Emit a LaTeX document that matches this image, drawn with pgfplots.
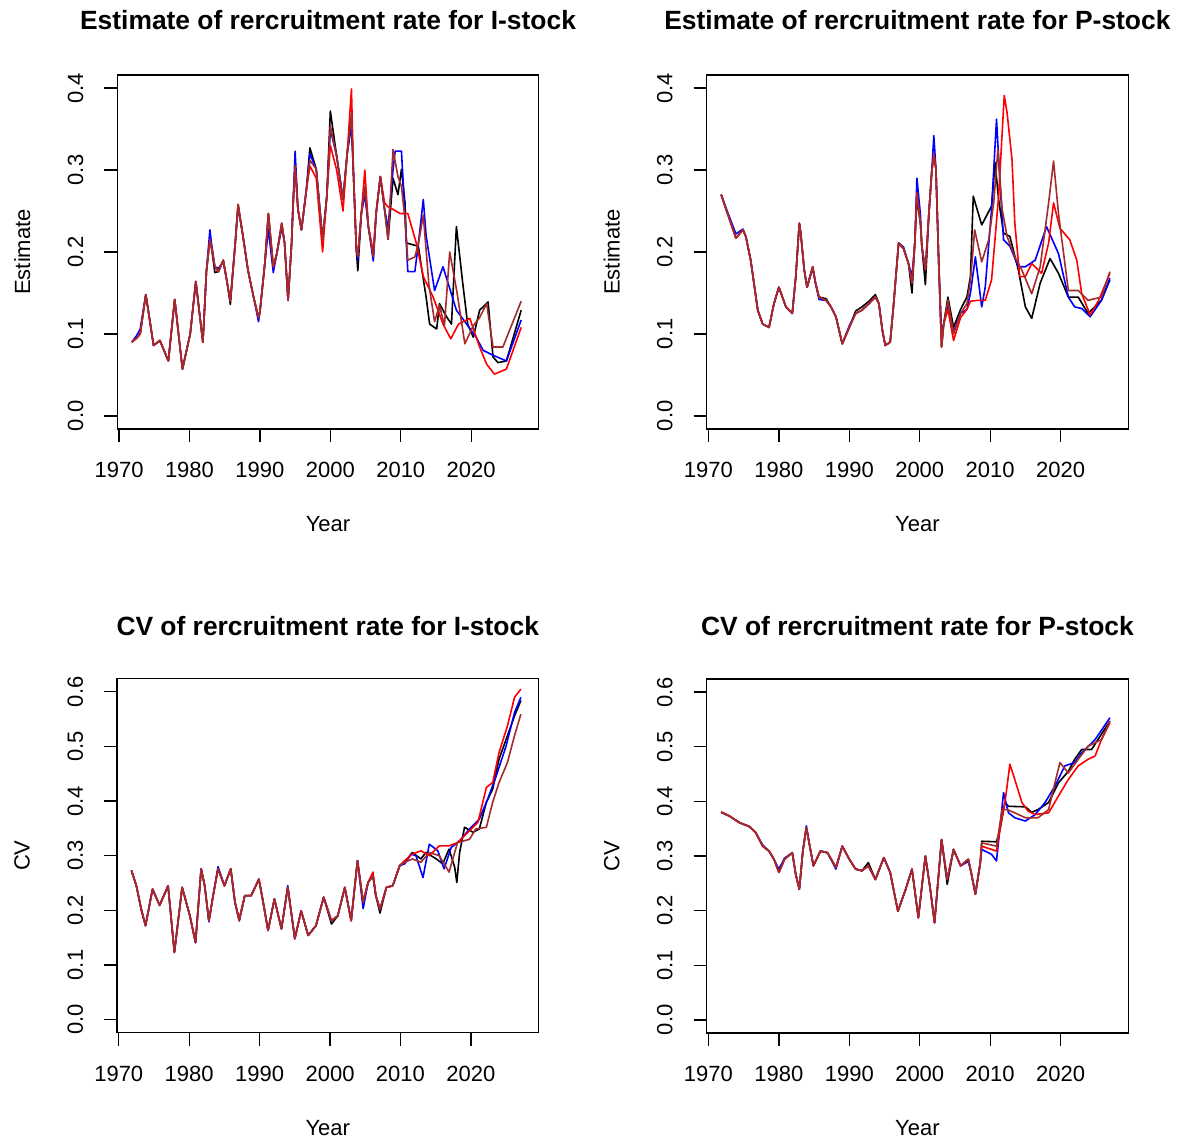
\documentclass[border=0pt]{standalone}
\usepackage{pgfplots}
\usepackage{pgfplotstable}
\pgfplotsset{compat=1.18}
\usepackage{fontspec}
\setmainfont{Liberation Sans}
\definecolor{rbrown}{RGB}{165,42,42}
\definecolor{rblue}{RGB}{0,0,255}
\definecolor{rred}{RGB}{255,0,0}

\pgfplotsset{
 rpanel/.style={
  scale only axis, width=421.5pt, height=354pt,
  xmin=1969.75, xmax=2029.6,
  xtick={1970,1980,1990,2000,2010,2020},
  tick align=outside, major tick length=13pt,
  xtick pos=bottom, ytick pos=left,
  axis line style={line width=1.3pt},
  every tick/.style={black, line width=1.3pt},
  tick label style={font=\fontsize{22}{26}\selectfont},
  /pgf/number format/assume math mode=true,
  xticklabel style={anchor=north, inner sep=0pt, yshift=-20pt, /pgf/number format/1000 sep={}},
  yticklabel style={rotate=90, anchor=south, inner sep=0pt, outer sep=0pt, outer ysep=21pt, /pgf/number format/.cd, fixed, fixed zerofill, precision=1},
  label style={font=\fontsize{22}{26}\selectfont},
  title style={font=\fontsize{26.4}{30}\selectfont\bfseries, anchor=center},
  xlabel style={at={(axis description cs:0.5,-0.268)}, anchor=center},
  ylabel style={at={(axis description cs:-0.2254,0.5)}, anchor=center},
  xlabel={Year},
  every axis plot/.append style={line width=1.6pt, line join=round},
 },
 toprow/.style={ymin=-0.016, ymax=0.416, ytick={0,0.1,0.2,0.3,0.4}, ylabel={Estimate},
   title style={at={(axis description cs:0.5,1.138)}}},
 botrow/.style={ymin=-0.024, ymax=0.624, ytick={0,0.1,0.2,0.3,0.4,0.5,0.6}, ylabel={CV},
   title style={at={(axis description cs:0.5,1.133)}}},
}

% ---------- common parts (year, black k, blue b, red r, brown n)
\pgfplotstableread{
year k b r n
1971.8 0.090 0.090 0.090 0.090
1972.5 0.095 0.098 0.095 0.095
1973.0 0.100 0.106 0.100 0.100
1973.8 0.148 0.148 0.148 0.148
1974.9 0.086 0.086 0.086 0.086
1975.8 0.092 0.092 0.092 0.092
1977.0 0.067 0.067 0.067 0.067
1977.9 0.142 0.142 0.142 0.142
1979.0 0.057 0.057 0.057 0.057
1980.1 0.100 0.100 0.100 0.100
1980.9 0.164 0.164 0.164 0.164
1981.9 0.090 0.090 0.090 0.090
1982.2 0.141 0.141 0.141 0.141
1982.4 0.176 0.176 0.176 0.176
1982.9 0.215 0.227 0.215 0.215
1983.1 0.207 0.212 0.207 0.207
1983.6 0.175 0.182 0.182 0.182
1984.1 0.176 0.180 0.176 0.176
1984.8 0.190 0.188 0.190 0.190
1985.3 0.165 0.165 0.165 0.165
1985.8 0.136 0.140 0.140 0.140
1986.5 0.211 0.211 0.211 0.211
1986.9 0.258 0.255 0.258 0.258
1987.6 0.219 0.219 0.219 0.219
1988.3 0.178 0.178 0.178 0.178
1989.1 0.145 0.145 0.145 0.145
1989.8 0.120 0.115 0.120 0.120
1990.0 0.127 0.127 0.127 0.127
1990.7 0.186 0.186 0.186 0.186
1991.2 0.247 0.228 0.247 0.247
1991.9 0.182 0.175 0.182 0.182
1992.4 0.198 0.198 0.198 0.198
1993.1 0.235 0.230 0.235 0.235
1993.5 0.211 0.211 0.211 0.211
1994.0 0.141 0.141 0.141 0.141
1994.5 0.211 0.211 0.211 0.211
1994.7 0.256 0.256 0.256 0.256
1995.0 0.305 0.323 0.305 0.305
1995.4 0.252 0.252 0.252 0.252
1995.9 0.227 0.227 0.227 0.227
1996.6 0.276 0.276 0.276 0.276
1997.1 0.327 0.320 0.305 0.312
1998.0 0.301 0.301 0.290 0.301
1998.9 0.215 0.215 0.200 0.215
1999.5 0.268 0.268 0.268 0.268
2000.0 0.372 0.350 0.330 0.354
2000.9 0.317 0.317 0.300 0.317
2001.8 0.264 0.264 0.250 0.264
2002.4 0.321 0.321 0.321 0.321
2003.0 0.355 0.360 0.399 0.370
2003.3 0.292 0.292 0.292 0.292
2003.7 0.202 0.202 0.202 0.202
2003.9 0.177 0.190 0.195 0.195
2004.4 0.247 0.247 0.247 0.247
2004.9 0.280 0.270 0.300 0.280
2005.4 0.231 0.231 0.231 0.231
2006.1 0.194 0.189 0.200 0.194
2006.5 0.247 0.247 0.247 0.247
2007.1 0.292 0.292 0.292 0.292
2007.7 0.252 0.252 0.260 0.252
2008.2 0.215 0.230 0.255 0.215
}\TLc

\pgfplotstableread{
year k b r n
1971.8 0.270 0.270 0.270 0.270
1972.7 0.247 0.249 0.247 0.247
1973.9 0.217 0.222 0.217 0.217
1974.9 0.227 0.228 0.227 0.227
1975.3 0.219 0.219 0.219 0.219
1976.0 0.190 0.190 0.190 0.190
1977.0 0.129 0.129 0.129 0.129
1977.7 0.112 0.112 0.112 0.112
1978.6 0.108 0.108 0.108 0.108
1979.3 0.137 0.137 0.137 0.137
1980.0 0.157 0.157 0.157 0.157
1981.0 0.133 0.133 0.133 0.133
1981.9 0.125 0.125 0.125 0.125
1982.4 0.170 0.170 0.170 0.170
1982.9 0.235 0.235 0.235 0.235
1983.1 0.223 0.223 0.223 0.223
1983.6 0.178 0.178 0.178 0.178
1984.0 0.157 0.157 0.157 0.157
1984.8 0.182 0.180 0.182 0.182
1985.2 0.162 0.162 0.162 0.162
1985.7 0.145 0.142 0.145 0.145
1986.7 0.143 0.141 0.141 0.141
1987.4 0.133 0.133 0.133 0.133
1988.1 0.121 0.121 0.121 0.121
1989.0 0.088 0.088 0.088 0.088
1990.0 0.108 0.110 0.108 0.108
1990.9 0.128 0.125 0.125 0.125
1991.8 0.133 0.129 0.129 0.129
1992.8 0.140 0.137 0.137 0.137
1993.7 0.148 0.145 0.145 0.145
1994.2 0.137 0.137 0.137 0.137
1994.7 0.104 0.104 0.104 0.104
1995.1 0.086 0.086 0.086 0.086
1995.8 0.090 0.090 0.090 0.090
1996.3 0.137 0.137 0.137 0.137
1997.0 0.211 0.211 0.211 0.211
1997.7 0.204 0.206 0.204 0.204
1998.4 0.186 0.186 0.186 0.186
1998.9 0.150 0.170 0.162 0.162
1999.3 0.211 0.211 0.211 0.211
1999.6 0.265 0.290 0.272 0.272
2000.1 0.235 0.245 0.235 0.235
2000.3 0.207 0.207 0.207 0.207
2000.8 0.160 0.178 0.178 0.178
2001.3 0.247 0.247 0.247 0.247
2001.7 0.297 0.297 0.297 0.297
2002.0 0.320 0.342 0.320 0.320
2002.3 0.301 0.301 0.301 0.301
2002.7 0.186 0.186 0.186 0.186
2003.1 0.084 0.100 0.084 0.084
2003.4 0.112 0.112 0.112 0.112
2004.0 0.145 0.135 0.130 0.141
2004.8 0.108 0.102 0.092 0.100
2005.8 0.130 0.125 0.120 0.125
2006.7 0.145 0.130 0.130 0.137
2007.2 0.170 0.150 0.140 0.165
}\TRc

\pgfplotstableread{
year k b r n
1971.8 0.273 0.273 0.273 0.273
1972.5 0.245 0.245 0.245 0.245
1973.2 0.202 0.200 0.202 0.202
1973.8 0.172 0.172 0.172 0.172
1974.8 0.239 0.239 0.239 0.239
1975.8 0.209 0.209 0.209 0.209
1977.0 0.245 0.245 0.245 0.245
1977.9 0.123 0.123 0.123 0.123
1979.0 0.242 0.242 0.242 0.242
1980.1 0.190 0.190 0.190 0.190
1980.9 0.141 0.141 0.141 0.141
1981.7 0.276 0.276 0.276 0.276
1982.2 0.245 0.245 0.245 0.245
1982.8 0.181 0.179 0.181 0.181
1983.4 0.227 0.227 0.227 0.227
1984.1 0.276 0.280 0.276 0.276
1985.0 0.245 0.245 0.245 0.245
1985.9 0.276 0.276 0.276 0.276
1986.5 0.215 0.215 0.215 0.215
1987.1 0.181 0.181 0.185 0.181
1987.9 0.227 0.227 0.227 0.227
1988.8 0.227 0.227 0.227 0.227
1989.9 0.257 0.257 0.257 0.257
1990.5 0.215 0.215 0.215 0.215
1991.2 0.163 0.163 0.163 0.163
1992.1 0.221 0.221 0.221 0.221
1993.1 0.166 0.166 0.166 0.166
1994.0 0.242 0.245 0.242 0.242
1995.0 0.148 0.148 0.148 0.148
1995.9 0.199 0.199 0.199 0.199
1996.9 0.154 0.154 0.154 0.154
1998.0 0.172 0.172 0.172 0.172
1999.1 0.224 0.224 0.224 0.224
2000.2 0.175 0.181 0.181 0.181
2001.1 0.190 0.190 0.190 0.190
2002.1 0.242 0.242 0.242 0.242
2003.0 0.181 0.181 0.181 0.181
2003.9 0.291 0.291 0.291 0.291
2004.7 0.215 0.203 0.215 0.215
2005.4 0.251 0.251 0.251 0.251
2006.1 0.263 0.263 0.270 0.263
2006.5 0.227 0.227 0.227 0.227
2007.1 0.195 0.202 0.202 0.202
2008.0 0.242 0.242 0.242 0.242
2008.9 0.245 0.245 0.245 0.245
2009.9 0.282 0.282 0.282 0.282
}\BLc

\pgfplotstableread{
year k b r n
1971.8 0.380 0.380 0.381 0.380
1973.0 0.373 0.373 0.373 0.373
1974.4 0.361 0.361 0.361 0.361
1975.8 0.354 0.354 0.354 0.354
1976.7 0.343 0.343 0.343 0.343
1977.7 0.318 0.320 0.318 0.318
1978.6 0.309 0.309 0.309 0.309
1979.3 0.294 0.294 0.294 0.294
1980.0 0.270 0.276 0.270 0.270
1980.8 0.294 0.296 0.294 0.294
1981.9 0.306 0.306 0.306 0.306
1982.4 0.266 0.266 0.266 0.266
1982.9 0.239 0.239 0.239 0.239
1983.4 0.309 0.309 0.309 0.309
1983.9 0.352 0.355 0.352 0.352
1984.3 0.324 0.324 0.324 0.324
1984.9 0.282 0.282 0.282 0.282
1985.9 0.309 0.309 0.309 0.309
1986.9 0.306 0.306 0.306 0.306
1988.1 0.279 0.276 0.279 0.279
1989.0 0.318 0.318 0.318 0.318
1990.0 0.294 0.294 0.294 0.294
1990.9 0.276 0.276 0.276 0.276
1991.8 0.273 0.273 0.273 0.273
1992.7 0.288 0.282 0.282 0.282
1993.7 0.257 0.257 0.257 0.257
1994.9 0.297 0.297 0.297 0.297
1995.8 0.270 0.270 0.270 0.270
1996.9 0.199 0.199 0.199 0.199
1998.0 0.239 0.239 0.239 0.239
1998.9 0.276 0.276 0.276 0.276
1999.8 0.187 0.187 0.187 0.187
2000.8 0.300 0.300 0.300 0.300
2001.5 0.239 0.239 0.239 0.239
2002.1 0.178 0.178 0.178 0.178
2003.1 0.330 0.330 0.330 0.330
2003.9 0.248 0.257 0.257 0.257
2004.8 0.312 0.312 0.312 0.312
2005.8 0.282 0.282 0.282 0.282
2006.9 0.294 0.290 0.294 0.294
2007.3 0.270 0.270 0.270 0.270
2007.9 0.230 0.230 0.230 0.230
2008.6 0.288 0.288 0.288 0.288
}\BRc

\begin{document}
\begin{tikzpicture}
\path[use as bounding box] (0pt,0pt) rectangle (1186pt,1146pt);

% ===== Top left
\begin{axis}[rpanel, toprow, at={(117.3pt,717pt)}, title={Estimate of rercruitment rate for I-stock}]
\addplot[black] table[x=year,y=k]{\TLc};
\addplot[black] coordinates {(2008.2,0.215) (2008.9,0.290) (2009.6,0.270) (2010.1,0.301) (2010.6,0.260) (2010.8,0.211) (2012.5,0.207) (2013.0,0.178) (2013.6,0.145) (2014.1,0.112) (2015.1,0.106) (2015.5,0.137) (2016.5,0.121) (2017.2,0.112) (2017.9,0.231) (2018.8,0.162) (2019.5,0.112) (2020.3,0.096) (2021.2,0.129) (2022.4,0.139) (2023.1,0.072) (2023.8,0.065) (2025.0,0.067) (2027.1,0.129)};
\addplot[rblue] table[x=year,y=b]{\TLc};
\addplot[rblue] coordinates {(2008.2,0.230) (2008.9,0.300) (2009.2,0.323) (2010.1,0.323) (2010.5,0.260) (2011.0,0.176) (2012.0,0.176) (2012.5,0.210) (2013.2,0.264) (2013.6,0.220) (2014.8,0.153) (2016.0,0.182) (2017.9,0.129) (2019.1,0.115) (2020.7,0.096) (2021.7,0.080) (2023.1,0.074) (2025.0,0.067) (2027.1,0.117)};
\addplot[rred] table[x=year,y=r]{\TLc};
\addplot[rred] coordinates {(2008.2,0.255) (2008.9,0.252) (2009.9,0.247) (2011.0,0.247) (2012.2,0.211) (2013.2,0.170) (2014.6,0.145) (2016.0,0.112) (2017.1,0.094) (2018.2,0.112) (2019.8,0.119) (2021.2,0.084) (2022.2,0.063) (2023.3,0.051) (2025.0,0.057) (2027.1,0.108)};
\addplot[rbrown] table[x=year,y=n]{\TLc};
\addplot[rbrown] coordinates {(2008.2,0.215) (2008.9,0.325) (2009.6,0.292) (2010.1,0.280) (2010.6,0.240) (2011.0,0.190) (2012.0,0.194) (2012.5,0.210) (2013.2,0.245) (2014.0,0.160) (2014.8,0.115) (2015.5,0.135) (2016.2,0.110) (2016.95,0.200) (2018.0,0.150) (2019.1,0.088) (2020.3,0.110) (2021.2,0.120) (2022.2,0.137) (2023.1,0.084) (2024.5,0.084) (2027.1,0.140)};
\end{axis}

% ===== Top right
\begin{axis}[rpanel, toprow, at={(706.7pt,717pt)}, title={Estimate of rercruitment rate for P-stock}]
\addplot[black] table[x=year,y=k]{\TRc};
\addplot[black] coordinates {(2007.2,0.170) (2007.6,0.268) (2008.8,0.233) (2010.2,0.256) (2010.7,0.309) (2011.2,0.264) (2011.9,0.223) (2012.8,0.219) (2014.0,0.178) (2015.0,0.133) (2015.9,0.119) (2017.1,0.162) (2018.5,0.192) (2019.7,0.174) (2021.1,0.145) (2022.5,0.145) (2023.9,0.125) (2025.8,0.141) (2027.0,0.166)};
\addplot[rblue] table[x=year,y=b]{\TRc};
\addplot[rblue] coordinates {(2007.2,0.150) (2007.9,0.194) (2008.8,0.133) (2009.3,0.157) (2010.2,0.252) (2010.9,0.362) (2011.4,0.284) (2011.9,0.215) (2012.8,0.207) (2014.0,0.182) (2015.0,0.182) (2016.4,0.190) (2018.0,0.231) (2019.7,0.198) (2021.1,0.145) (2022.0,0.133) (2023.0,0.131) (2024.2,0.121) (2025.8,0.141) (2027.0,0.168)};
\addplot[rred] table[x=year,y=r]{\TRc};
\addplot[rred] coordinates {(2007.2,0.140) (2008.3,0.141) (2009.3,0.141) (2010.2,0.166) (2011.2,0.268) (2012.0,0.391) (2012.4,0.370) (2013.1,0.313) (2013.5,0.235) (2014.2,0.170) (2015.0,0.170) (2015.9,0.186) (2017.3,0.174) (2018.3,0.211) (2019.0,0.260) (2019.9,0.229) (2021.3,0.215) (2022.3,0.190) (2023.0,0.149) (2024.2,0.123) (2025.4,0.141) (2027.0,0.174)};
\addplot[rbrown] table[x=year,y=n]{\TRc};
\addplot[rbrown] coordinates {(2007.2,0.165) (2007.8,0.227) (2008.8,0.188) (2009.8,0.215) (2010.5,0.260) (2011.1,0.325) (2011.7,0.252) (2012.4,0.219) (2013.5,0.194) (2014.5,0.178) (2015.9,0.149) (2017.1,0.182) (2018.3,0.260) (2019.0,0.311) (2019.7,0.247) (2021.1,0.153) (2022.5,0.153) (2023.9,0.141) (2025.8,0.145) (2027.0,0.176)};
\end{axis}

% ===== Bottom left
\begin{axis}[rpanel, botrow, at={(117pt,113.3pt)}, title={CV of rercruitment rate for I-stock}]
\addplot[black] table[x=year,y=k]{\BLc};
\addplot[black] coordinates {(2009.9,0.282) (2010.6,0.288) (2011.7,0.306) (2012.9,0.294) (2013.6,0.306) (2015.1,0.294) (2016.0,0.285) (2016.9,0.312) (2017.7,0.279) (2018.0,0.251) (2018.4,0.306) (2019.1,0.352) (2020.3,0.343) (2021.2,0.349) (2022.2,0.398) (2023.1,0.422) (2024.0,0.477) (2025.2,0.520) (2026.2,0.556) (2027.1,0.584)};
\addplot[rblue] table[x=year,y=b]{\BLc};
\addplot[rblue] coordinates {(2009.9,0.282) (2010.6,0.285) (2011.5,0.303) (2012.2,0.300) (2013.2,0.260) (2014.1,0.321) (2015.3,0.309) (2016.2,0.276) (2017.2,0.315) (2018.4,0.327) (2019.8,0.349) (2021.2,0.367) (2022.4,0.404) (2023.6,0.446) (2025.0,0.501) (2026.2,0.562) (2027.1,0.590)};
\addplot[rred] table[x=year,y=r]{\BLc};
\addplot[rred] coordinates {(2009.9,0.282) (2010.6,0.291) (2011.7,0.303) (2012.9,0.309) (2014.1,0.300) (2015.5,0.318) (2016.9,0.318) (2018.1,0.324) (2019.6,0.343) (2021.0,0.361) (2022.2,0.425) (2023.1,0.434) (2024.0,0.489) (2025.2,0.538) (2026.2,0.590) (2027.1,0.605)};
\addplot[rbrown] table[x=year,y=n]{\BLc};
\addplot[rbrown] coordinates {(2009.9,0.282) (2010.6,0.288) (2011.7,0.294) (2012.9,0.288) (2014.1,0.306) (2015.5,0.300) (2016.9,0.270) (2018.1,0.324) (2019.8,0.330) (2020.7,0.349) (2022.2,0.352) (2023.1,0.398) (2024.0,0.434) (2025.2,0.471) (2026.2,0.520) (2027.1,0.559)};
\end{axis}

% ===== Bottom right
\begin{axis}[rpanel, botrow, at={(706.7pt,113pt)}, title={CV of rercruitment rate for P-stock}]
\addplot[black] table[x=year,y=k]{\BRc};
\addplot[black] coordinates {(2008.6,0.288) (2008.8,0.327) (2010.9,0.326) (2011.4,0.349) (2012.1,0.398) (2012.6,0.391) (2015.0,0.390) (2015.9,0.380) (2016.8,0.385) (2018.3,0.398) (2019.7,0.434) (2021.1,0.455) (2022.0,0.477) (2023.0,0.495) (2024.4,0.495) (2025.8,0.523) (2027.0,0.547)};
\addplot[rblue] table[x=year,y=b]{\BRc};
\addplot[rblue] coordinates {(2008.6,0.288) (2008.8,0.312) (2010.2,0.303) (2010.9,0.291) (2011.9,0.416) (2012.6,0.379) (2013.5,0.370) (2015.0,0.364) (2016.4,0.376) (2017.8,0.398) (2019.2,0.428) (2020.6,0.465) (2022.0,0.471) (2023.0,0.489) (2024.9,0.513) (2027.0,0.553)};
\addplot[rred] table[x=year,y=r]{\BRc};
\addplot[rred] coordinates {(2008.6,0.288) (2008.8,0.318) (2010.9,0.309) (2011.7,0.373) (2012.1,0.398) (2012.8,0.468) (2013.5,0.440) (2014.5,0.398) (2015.4,0.382) (2016.4,0.376) (2018.3,0.379) (2019.7,0.410) (2021.1,0.440) (2022.5,0.465) (2023.9,0.477) (2024.9,0.483) (2025.8,0.513) (2027.0,0.544)};
\addplot[rbrown] table[x=year,y=n]{\BRc};
\addplot[rbrown] coordinates {(2008.6,0.288) (2008.8,0.324) (2010.9,0.318) (2011.7,0.385) (2012.4,0.385) (2013.5,0.379) (2015.0,0.370) (2016.8,0.370) (2018.3,0.385) (2019.2,0.434) (2019.9,0.471) (2021.1,0.452) (2022.5,0.477) (2023.9,0.501) (2025.8,0.513) (2027.0,0.547)};
\end{axis}
\end{tikzpicture}
\end{document}
